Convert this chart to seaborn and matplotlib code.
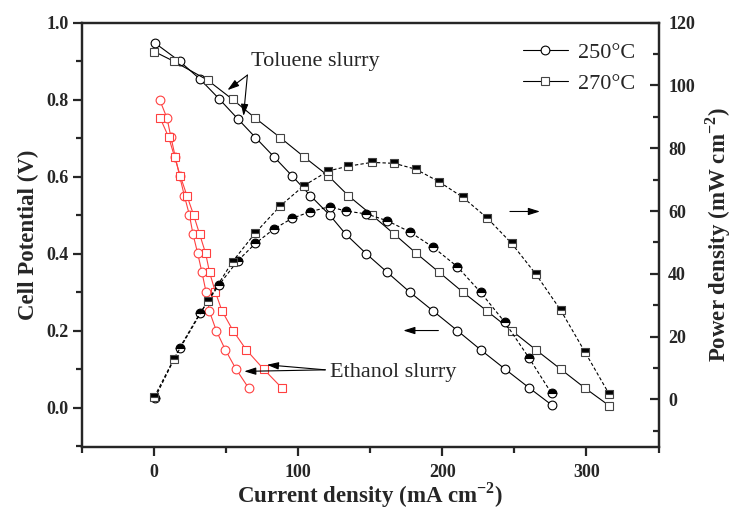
import matplotlib
matplotlib.use("Agg")
import matplotlib.pyplot as plt
from matplotlib.lines import Line2D
import seaborn as sns
import pandas as pd

# ---------------- data ----------------
tol250_i = [1.0, 18.0, 32.3, 45.5, 58.2, 70.6, 83.4, 96.1, 108.7, 122.0,
            133.2, 147.5, 162.0, 177.5, 194.0, 210.5, 226.7, 243.6, 260.4, 275.9]
tol250_v = [0.947, 0.900, 0.853, 0.802, 0.751, 0.702, 0.652, 0.602, 0.551, 0.501,
            0.451, 0.400, 0.352, 0.301, 0.251, 0.201, 0.151, 0.101, 0.052, 0.008]
tol250_p = [0.5, 16.4, 27.6, 36.6, 44.1, 49.7, 54.3, 57.7, 59.8, 61.4,
            60.0, 59.1, 56.9, 53.4, 48.4, 42.3, 34.1, 24.5, 13.1, 1.9]

tol270_i = [0.5, 13.9, 37.4, 54.7, 70.6, 87.7, 104.2, 121.2, 135.0, 151.2,
            166.9, 181.9, 198.0, 214.3, 231.0, 248.2, 265.0, 282.1, 298.9, 315.8]
tol270_v = [0.925, 0.900, 0.851, 0.801, 0.752, 0.702, 0.652, 0.602, 0.551, 0.501,
            0.451, 0.402, 0.352, 0.301, 0.252, 0.201, 0.151, 0.101, 0.052, 0.006]
tol270_p = [0.8, 12.8, 31.3, 43.9, 53.1, 61.6, 68.1, 72.8, 74.3, 75.5,
            75.2, 73.3, 69.3, 64.4, 57.9, 49.7, 39.9, 28.5, 15.2, 1.7]

eth250_i = [4.2, 9.3, 12.0, 15.0, 18.0, 21.3, 24.8, 27.3, 30.5, 33.5,
            36.3, 38.6, 43.4, 49.7, 57.1, 65.8]
eth250_v = [0.800, 0.752, 0.703, 0.652, 0.602, 0.551, 0.501, 0.451, 0.402, 0.352,
            0.302, 0.252, 0.201, 0.151, 0.101, 0.052]

eth270_i = [4.6, 10.4, 14.5, 18.5, 23.1, 27.7, 31.9, 36.0, 38.8, 42.7,
            47.4, 55.0, 64.2, 76.2, 88.9]
eth270_v = [0.752, 0.703, 0.652, 0.602, 0.551, 0.501, 0.451, 0.402, 0.352, 0.302,
            0.252, 0.201, 0.151, 0.101, 0.052]

legend_labels = ["250°C", "270°C"]

# ---------------- style ----------------
sns.set_style("ticks")
plt.rcParams["font.family"] = ["Liberation Serif", "DejaVu Serif"]
plt.rcParams["mathtext.fontset"] = "custom"
plt.rcParams["mathtext.rm"] = "Liberation Serif"
plt.rcParams["mathtext.bf"] = "Liberation Serif:bold"
plt.rcParams["axes.linewidth"] = 1.6

fig = plt.figure(figsize=(7.32, 5.19), dpi=100)
ax = fig.add_axes([81.5 / 732, 1 - 446.5 / 519, (658.5 - 81.5) / 732, (446.5 - 22.7) / 519])
ax2 = ax.twinx()

RED = "#ff4040"
GREY = "#444444"
ms = 6.3

def line(axis, x, y, **kw):
    df = pd.DataFrame({"x": x, "y": y})
    sns.lineplot(data=df, x="x", y="y", ax=axis, sort=False, estimator=None,
                 legend=False, **kw)

# polarization curves (left axis)
line(ax, tol250_i, tol250_v, color="black", lw=0.8, marker="o", markersize=ms,
     markerfacecolor="white", markeredgecolor="black", markeredgewidth=0.8)
line(ax, tol270_i, tol270_v, color="black", lw=0.8, marker="s", markersize=ms - 0.5,
     markerfacecolor="white", markeredgecolor=GREY, markeredgewidth=0.8)
line(ax, eth250_i, eth250_v, color=RED, lw=0.8, marker="o", markersize=ms,
     markerfacecolor="white", markeredgecolor=RED, markeredgewidth=0.8)
line(ax, eth270_i, eth270_v, color=RED, lw=0.8, marker="s", markersize=ms - 0.5,
     markerfacecolor="white", markeredgecolor=RED, markeredgewidth=0.8)

# power curves (right axis)
line(ax2, tol250_i, tol250_p, color="black", lw=0.8, linestyle=(0, (3, 2)),
     marker="o", markersize=ms, fillstyle="top", markerfacecolor="black",
     markerfacecoloralt="white", markeredgecolor="black", markeredgewidth=0.8)
line(ax2, tol270_i, tol270_p, color="black", lw=0.8, linestyle=(0, (3, 2)),
     marker="s", markersize=ms - 0.5, fillstyle="top", markerfacecolor="black",
     markerfacecoloralt="white", markeredgecolor=GREY, markeredgewidth=0.8)

# ---------------- axes ----------------
ax.set_xlim(-50, 350)
ax.set_ylim(-0.1, 1.0)
ax2.set_ylim(-15, 120)

ax.set_xticks([0, 100, 200, 300])
ax.set_xticks([-50, 50, 150, 250, 350], minor=True)
ax.set_yticks([0.0, 0.2, 0.4, 0.6, 0.8, 1.0])
ax.set_yticks([-0.1, 0.1, 0.3, 0.5, 0.7, 0.9], minor=True)
ax.set_yticklabels(["0.0", "0.2", "0.4", "0.6", "0.8", "1.0"])
ax2.set_yticks([0, 20, 40, 60, 80, 100, 120])
ax2.set_yticks([-10, 10, 30, 50, 70, 90, 110], minor=True)

ax.tick_params(which="major", direction="out", length=6.5, width=1.6, labelsize=13)
ax.tick_params(which="minor", direction="out", length=4, width=1.6)
ax.tick_params(axis="x", pad=6)
ax.tick_params(axis="y", pad=3)
ax2.tick_params(which="major", direction="in", length=6.5, width=1.6, labelsize=13, pad=7)
ax2.tick_params(which="minor", direction="in", length=4, width=1.6)
for a in (ax, ax2):
    for lab in a.get_xticklabels() + a.get_yticklabels():
        lab.set_fontweight("bold")
for s in ax2.spines.values():
    s.set_linewidth(1.6)

sup = "$^{\\mathbf{-2}}$"
ax.set_xlabel("Current density (mA cm" + sup + ")", fontsize=16.5,
              fontweight="bold", labelpad=0)
ax.set_ylabel("Cell Potential (V)", fontsize=16.5, fontweight="bold", labelpad=5)
ax2.set_ylabel("Power density (mW cm" + sup + ")", fontsize=16.5,
               fontweight="bold", labelpad=6)

# ---------------- annotations ----------------
aprops = dict(arrowstyle="-|>,head_length=0.7,head_width=0.22", color="black",
              lw=0.8, shrinkA=0, shrinkB=0)
ax.text(67.8, 0.90, "Toluene slurry", fontsize=16, va="center", ha="left")
ax.annotate("", xy=(51.2, 0.825), xytext=(65.0, 0.864), arrowprops=aprops)
ax.annotate("", xy=(62.3, 0.758), xytext=(65.0, 0.864), arrowprops=aprops)

ax.text(122.4, 0.0915, "Ethanol slurry", fontsize=16, va="center", ha="left")
ax.annotate("", xy=(62.8, 0.095), xytext=(119.0, 0.099), arrowprops=aprops)
ax.annotate("", xy=(78.5, 0.112), xytext=(119.0, 0.099), arrowprops=aprops)

ax.annotate("", xy=(267.8, 0.51), xytext=(247.0, 0.51), arrowprops=aprops)
ax.annotate("", xy=(173.1, 0.201), xytext=(197.4, 0.201), arrowprops=aprops)

# ---------------- legend ----------------
handles = [
    Line2D([], [], color="black", lw=0.8, marker="o", markersize=ms,
           markerfacecolor="white", markeredgecolor="black", markeredgewidth=0.8),
    Line2D([], [], color="black", lw=0.8, marker="s", markersize=ms - 0.5,
           markerfacecolor="white", markeredgecolor=GREY, markeredgewidth=0.8),
]
ax2.legend(handles, legend_labels, loc="upper right", frameon=False, fontsize=16,
           handlelength=2.0, handletextpad=0.45, labelspacing=0.45,
           borderaxespad=0.4, bbox_to_anchor=(0.99, 0.995))

fig.savefig("out.png", dpi=100)
